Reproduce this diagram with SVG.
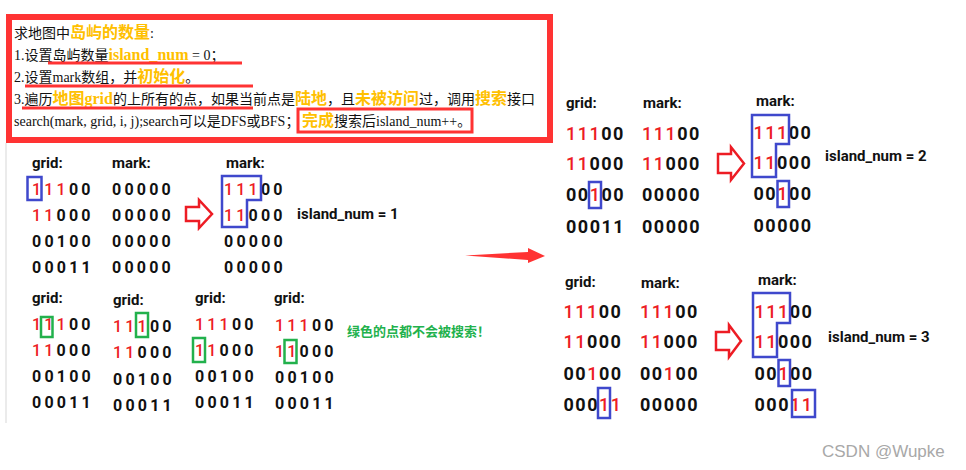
<svg xmlns="http://www.w3.org/2000/svg" width="966" height="470" viewBox="0 0 966 470">
<style>
.t{font-family:"Liberation Serif","Noto Sans CJK SC",serif;font-size:14px;fill:#111}
.o{font-family:"Noto Sans CJK SC",sans-serif;font-weight:bold;font-size:16px;fill:#FFC000}
.ol{font-family:"Liberation Serif",serif;font-weight:bold;font-size:16px;fill:#FFC000}
.lb{font-family:Roboto,"Liberation Sans",sans-serif;font-weight:bold;font-size:15px;fill:#111}
.d{font-family:Roboto,"Liberation Sans",sans-serif;font-weight:bold;font-size:16px;letter-spacing:3.2px;fill:#111}
.D{font-family:Roboto,"Liberation Sans",sans-serif;font-weight:bold;font-size:18px;letter-spacing:1.5px;fill:#111}
.r{fill:#ED1C24;font-weight:500}
.bb{fill:none;stroke:#3F48CC;stroke-width:2.5}
.gb{fill:none;stroke:#22B14C;stroke-width:2.5}
.ha{fill:#fff;stroke:#ED1C24;stroke-width:2.5;stroke-linejoin:miter}
.ul{stroke:#FF3333;stroke-width:3}
.gt{font-family:"Noto Sans CJK SC",sans-serif;font-weight:bold;font-size:13px;fill:#22B14C}
</style>

<g id="desc">
<rect x="9" y="17" width="541" height="123" fill="#fff" stroke="#FF3333" stroke-width="6"/>
<text class="t" x="14" y="38">求地图中<tspan class="o">岛屿的数量</tspan>:</text>
<text class="t" x="14" y="60">1.设置岛屿数量<tspan class="ol">island_num</tspan> = 0；</text>
<text class="t" x="14" y="82">2.设置mark数组，并<tspan class="o">初始化</tspan>。</text>
<text class="t" x="14" y="104">3.遍历<tspan class="o">地图</tspan><tspan class="ol">grid</tspan>的上所有的点，如果当前点是<tspan class="o">陆地</tspan>，且<tspan class="o">未被访问</tspan>过，调用<tspan class="o">搜索</tspan>接口</text>
<text class="t" x="14" y="126">search(mark, grid, i, j);search可以是DFS或BFS；</text>
<text class="t" x="302" y="126"><tspan class="o">完成</tspan>搜索后island_num++。</text>
<line class="ul" x1="48" y1="63" x2="242" y2="63"/>
<line class="ul" x1="25" y1="86" x2="253" y2="86"/>
<line class="ul" x1="22" y1="108" x2="253" y2="108"/>
<rect x="298" y="109" width="174" height="23" fill="none" stroke="#FF3333" stroke-width="3"/>
</g>

<line x1="6" y1="143" x2="6" y2="423" stroke="#E4E4E4" stroke-width="1.5"/>

<g id="step1">
<text class="lb" x="32" y="168">grid:</text>
<text class="lb" x="112" y="168">mark:</text>
<text class="lb" x="226" y="168">mark:</text>
<text class="d" x="32" y="195"><tspan class="r">111</tspan>00</text>
<text class="d" x="32" y="221"><tspan class="r">11</tspan>000</text>
<text class="d" x="32" y="247">00100</text>
<text class="d" x="32" y="273">00011</text>
<rect class="bb" x="27.5" y="177" width="14" height="23"/>
<text class="d" x="112" y="195">00000</text>
<text class="d" x="112" y="221">00000</text>
<text class="d" x="112" y="247">00000</text>
<text class="d" x="112" y="273">00000</text>
<path class="ha" d="M186,207 H199 V200 L212,214 L199,228 V221 H186 Z"/>
<text class="d" x="224" y="195"><tspan class="r">111</tspan>00</text>
<text class="d" x="224" y="221"><tspan class="r">11</tspan>000</text>
<text class="d" x="224" y="247">00000</text>
<text class="d" x="224" y="273">00000</text>
<path class="bb" d="M222,176 H261 V200 H247 V227 H222 Z"/>
<text class="lb" x="297" y="219">island_num = 1</text>
</g>

<g id="skip">
<text class="lb" x="32" y="303">grid:</text>
<text class="lb" x="113" y="305">grid:</text>
<text class="lb" x="195" y="303">grid:</text>
<text class="lb" x="274" y="303">grid:</text>
<text class="d" x="32" y="330"><tspan class="r">111</tspan>00</text>
<text class="d" x="32" y="356"><tspan class="r">11</tspan>000</text>
<text class="d" x="32" y="382">00100</text>
<text class="d" x="32" y="408">00011</text>
<rect class="gb" x="41" y="317" width="11.5" height="20"/>
<text class="d" x="113" y="332"><tspan class="r">111</tspan>00</text>
<text class="d" x="113" y="358"><tspan class="r">11</tspan>000</text>
<text class="d" x="113" y="385">00100</text>
<text class="d" x="113" y="411">00011</text>
<rect class="gb" x="136" y="313" width="12" height="24"/>
<text class="d" x="195" y="330"><tspan class="r">111</tspan>00</text>
<text class="d" x="195" y="356"><tspan class="r">11</tspan>000</text>
<text class="d" x="195" y="382">00100</text>
<text class="d" x="195" y="408">00011</text>
<rect class="gb" x="193" y="338" width="12" height="24"/>
<text class="d" x="275" y="331"><tspan class="r">111</tspan>00</text>
<text class="d" x="275" y="357"><tspan class="r">11</tspan>000</text>
<text class="d" x="275" y="383">00100</text>
<text class="d" x="275" y="409">00011</text>
<rect class="gb" x="284.5" y="340" width="12" height="23"/>
<text class="gt" x="347" y="336">绿色的点都不会被搜索！</text>
</g>

<g id="connectors">
<path d="M465,255.5 L528,252 L528,248 L545,256 L528,263 L528,260 Z" fill="#FF3333"/>
</g>

<g id="step2">
<text class="lb" x="566" y="108">grid:</text>
<text class="lb" x="643" y="108">mark:</text>
<text class="lb" x="756" y="106">mark:</text>
<text class="D" x="566" y="140"><tspan class="r">111</tspan>00</text>
<text class="D" x="566" y="170"><tspan class="r">11</tspan>000</text>
<text class="D" x="566" y="201">00<tspan class="r">1</tspan>00</text>
<text class="D" x="566" y="233">00011</text>
<rect class="bb" x="589" y="182" width="12" height="26"/>
<text class="D" x="642" y="140"><tspan class="r">111</tspan>00</text>
<text class="D" x="642" y="170"><tspan class="r">11</tspan>000</text>
<text class="D" x="642" y="201">00000</text>
<text class="D" x="642" y="233">00000</text>
<path class="ha" d="M718,154 H731 V147 L744,163.5 L731,180 V173 H718 Z"/>
<text class="D" x="753.5" y="139"><tspan class="r">111</tspan>00</text>
<text class="D" x="753.5" y="169"><tspan class="r">11</tspan>000</text>
<text class="D" x="753.5" y="200">00<tspan class="r">1</tspan>00</text>
<text class="D" x="753.5" y="232">00000</text>
<path class="bb" d="M752,115 H789 V144 H776 V177 H752 Z"/>
<rect class="bb" x="777.5" y="181" width="11.5" height="26"/>
<text class="lb" x="825" y="161">island_num = 2</text>
</g>

<g id="step3">
<text class="lb" x="565" y="287">grid:</text>
<text class="lb" x="641" y="288">mark:</text>
<text class="lb" x="758" y="285">mark:</text>
<text class="D" x="563.5" y="318"><tspan class="r">111</tspan>00</text>
<text class="D" x="563.5" y="348"><tspan class="r">11</tspan>000</text>
<text class="D" x="563.5" y="380">00<tspan class="r">1</tspan>00</text>
<text class="D" x="563.5" y="411">000<tspan class="r">11</tspan></text>
<rect class="bb" x="598" y="388" width="12" height="30"/>
<text class="D" x="640" y="318"><tspan class="r">111</tspan>00</text>
<text class="D" x="640" y="348"><tspan class="r">11</tspan>000</text>
<text class="D" x="640" y="380">00<tspan class="r">1</tspan>00</text>
<text class="D" x="640" y="411">00000</text>
<path class="ha" d="M716,332 H729 V325 L741,341 L729,357 V350 H716 Z"/>
<text class="D" x="754.5" y="318"><tspan class="r">111</tspan>00</text>
<text class="D" x="754.5" y="348"><tspan class="r">11</tspan>000</text>
<text class="D" x="754.5" y="380">00<tspan class="r">1</tspan>00</text>
<text class="D" x="754.5" y="411">000<tspan class="r">11</tspan></text>
<path class="bb" d="M753,293 H790 V323 H777 V357 H753 Z"/>
<rect class="bb" x="778.5" y="360" width="11.5" height="26"/>
<rect class="bb" x="792" y="390" width="23" height="27"/>
<text class="lb" x="828" y="342">island_num = 3</text>
</g>

<text x="822" y="457" font-family="Liberation Sans, Arial, sans-serif" font-size="17" fill="#A8A8A8">CSDN @Wupke</text>
</svg>
